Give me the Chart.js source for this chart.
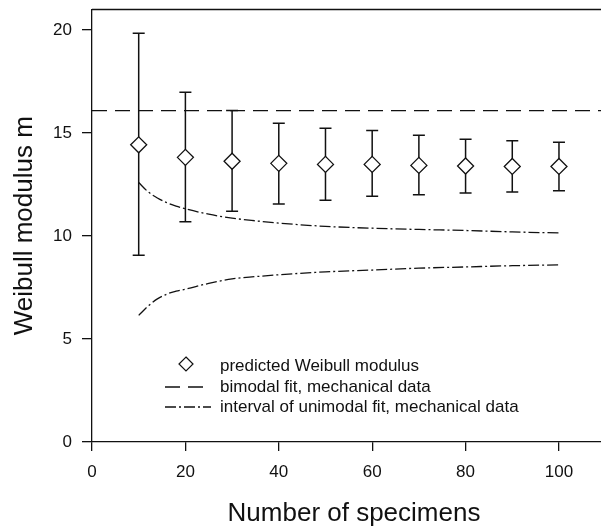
<!DOCTYPE html>
<html>
<head>
<meta charset="utf-8">
<script src="https://cdn.jsdelivr.net/npm/chart.js@4/dist/chart.umd.min.js"></script>
<style>
  html, body { margin: 0; padding: 0; background: #fff; }
  #wrap { width: 601px; height: 526px; }
</style>
</head>
<body>
<div id="wrap"><canvas id="c" width="601" height="526"></canvas></div>
<script>
// ---- data ----
const nSpecimens = [10, 20, 30, 40, 50, 60, 70, 80, 90, 100];
const predictedM = [14.43, 13.82, 13.63, 13.53, 13.48, 13.48, 13.43, 13.40, 13.38, 13.38];
const errUpper   = [19.85, 16.98, 16.10, 15.48, 15.24, 15.13, 14.89, 14.70, 14.63, 14.56];
const errLower   = [9.07, 10.69, 11.20, 11.56, 11.74, 11.93, 12.00, 12.09, 12.14, 12.20];

const bimodalX = [0, 109];
const bimodalM = [16.09, 16.09];

const intervalX     = [10, 12, 14, 16, 18, 20, 25, 30, 35, 40, 50, 60, 70, 80, 90, 100];
const intervalUpper = [12.6, 12.15, 11.85, 11.62, 11.45, 11.32, 11.06, 10.87, 10.74, 10.63, 10.47, 10.38, 10.32, 10.27, 10.2, 10.15];
const intervalLower = [6.15, 6.6, 6.95, 7.18, 7.32, 7.42, 7.7, 7.92, 8.03, 8.12, 8.26, 8.35, 8.44, 8.5, 8.56, 8.6];

const xTicks = [0, 20, 40, 60, 80, 100];
const yTicks = [0, 5, 10, 15, 20];

const legendLabels = [
  'predicted Weibull modulus',
  'bimodal fit, mechanical data',
  'interval of unimodal fit, mechanical data'
];
const xTitle = 'Number of specimens';
const yTitle = 'Weibull modulus m';

// ---- build ----
const FONT = '"Liberation Sans", Arial, sans-serif';
const INK = '#111';
const zip = (xs, ys) => xs.map((x, i) => ({ x, y: ys[i] }));
const DASHDOT = [11, 3, 2, 3];
const DASH = [15, 8];

const errorBars = {
  id: 'errorBars',
  beforeDatasetsDraw(chart) {
    const { ctx, scales: { x, y } } = chart;
    ctx.save();
    ctx.strokeStyle = INK;
    ctx.lineWidth = 1.5;
    nSpecimens.forEach((n, i) => {
      const px = x.getPixelForValue(n);
      const top = y.getPixelForValue(errUpper[i]);
      const bot = y.getPixelForValue(errLower[i]);
      ctx.beginPath();
      ctx.moveTo(px, top); ctx.lineTo(px, bot);
      ctx.moveTo(px - 6, top); ctx.lineTo(px + 6, top);
      ctx.moveTo(px - 6, bot); ctx.lineTo(px + 6, bot);
      ctx.stroke();
    });
    ctx.restore();
  }
};

const decorations = {
  id: 'decorations',
  afterDraw(chart) {
    const { ctx, chartArea: a } = chart;
    ctx.save();
    // top frame line
    ctx.strokeStyle = INK;
    ctx.lineWidth = 1.3;
    ctx.beginPath();
    ctx.moveTo(a.left, a.top); ctx.lineTo(a.right, a.top);
    ctx.stroke();

    // axis titles
    ctx.fillStyle = INK;
    ctx.font = '26px ' + FONT;
    ctx.textAlign = 'center';
    ctx.textBaseline = 'alphabetic';
    ctx.fillText(xTitle, 354, 521);
    ctx.save();
    ctx.translate(32, (a.top + a.bottom) / 2);
    ctx.rotate(-Math.PI / 2);
    ctx.fillText(yTitle, 0, 0);
    ctx.restore();

    // legend
    const lx0 = 165, lx1 = 211, tx = 220;
    const rows = [366, 387, 407];
    ctx.font = '17px ' + FONT;
    ctx.textAlign = 'left';
    ctx.textBaseline = 'middle';
    legendLabels.forEach((t, i) => ctx.fillText(t, tx, rows[i]));
    // diamond
    const cx = 186, cy = rows[0] - 2, r = 7;
    ctx.beginPath();
    ctx.moveTo(cx, cy - r); ctx.lineTo(cx + r, cy); ctx.lineTo(cx, cy + r); ctx.lineTo(cx - r, cy); ctx.closePath();
    ctx.fillStyle = '#fff'; ctx.fill();
    ctx.lineWidth = 1.2; ctx.strokeStyle = INK; ctx.stroke();
    // line samples
    ctx.lineWidth = 1.3;
    ctx.setLineDash(DASH);
    ctx.beginPath(); ctx.moveTo(lx0, rows[1]); ctx.lineTo(lx1, rows[1]); ctx.stroke();
    ctx.setLineDash(DASHDOT);
    ctx.beginPath(); ctx.moveTo(lx0, rows[2]); ctx.lineTo(lx1, rows[2]); ctx.stroke();
    ctx.restore();
  }
};

const zeroPad = (ax) => { ax.paddingTop = 0; ax.paddingBottom = 0; ax.paddingLeft = 0; ax.paddingRight = 0; };

new Chart(document.getElementById('c'), {
  type: 'scatter',
  data: {
    datasets: [
      {
        label: legendLabels[2] + ' (upper)',
        data: zip(intervalX, intervalUpper),
        showLine: true, pointRadius: 0, borderColor: INK, borderWidth: 1.3,
        borderDash: DASHDOT, cubicInterpolationMode: 'monotone', fill: false
      },
      {
        label: legendLabels[2] + ' (lower)',
        data: zip(intervalX, intervalLower),
        showLine: true, pointRadius: 0, borderColor: INK, borderWidth: 1.3,
        borderDash: DASHDOT, cubicInterpolationMode: 'monotone', fill: false
      },
      {
        label: legendLabels[1],
        data: zip(bimodalX, bimodalM),
        showLine: true, pointRadius: 0, borderColor: INK, borderWidth: 1.4,
        borderDash: DASH, fill: false
      },
      {
        label: legendLabels[0],
        data: zip(nSpecimens, predictedM),
        pointStyle: 'rectRot', pointRadius: 8, pointHoverRadius: 8,
        backgroundColor: '#fff', borderColor: INK, borderWidth: 1.3
      }
    ]
  },
  options: {
    responsive: false,
    animation: false,
    devicePixelRatio: 1,
    layout: { autoPadding: false, padding: { top: 9.5, right: 0, left: 0, bottom: 0 } },
    plugins: { legend: { display: false }, tooltip: { enabled: false }, title: { display: false } },
    scales: {
      x: {
        type: 'linear', min: 0, max: 109,
        afterBuildTicks: (ax) => { ax.ticks = xTicks.map(v => ({ value: v })); },
        afterFit: (ax) => { ax.height = 84; zeroPad(ax); },
        grid: { drawOnChartArea: false, drawTicks: true, tickLength: 9, color: INK, lineWidth: 1.3 },
        border: { display: true, color: INK, width: 1.3 },
        ticks: { color: INK, font: { family: FONT, size: 17 }, padding: 11, maxRotation: 0, autoSkip: false }
      },
      y: {
        type: 'linear', min: 0, max: 21,
        afterBuildTicks: (ax) => { ax.ticks = yTicks.map(v => ({ value: v })); },
        afterFit: (ax) => { ax.width = 92; zeroPad(ax); },
        grid: { drawOnChartArea: false, drawTicks: true, tickLength: 10, color: INK, lineWidth: 1.3 },
        border: { display: true, color: INK, width: 1.3 },
        ticks: { color: INK, font: { family: FONT, size: 17 }, padding: 10, autoSkip: false }
      }
    }
  },
  plugins: [errorBars, decorations]
});
</script>
</body>
</html>
